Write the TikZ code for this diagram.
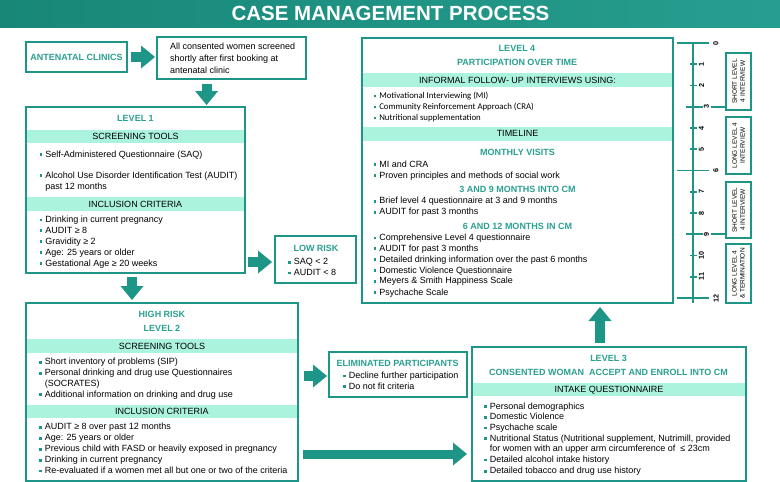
\documentclass[tikz,border=0pt]{standalone}
\usepackage{fontspec}
\setmainfont{Liberation Sans}
\newfontfamily\calib{Carlito}
\usetikzlibrary{arrows.meta,calc}
\definecolor{tealA}{RGB}{30,150,135}
\definecolor{tealH}{RGB}{42,160,145}
\definecolor{mint}{RGB}{172,243,222}
\definecolor{tealT1}{RGB}{24,135,120}
\definecolor{tealT2}{RGB}{38,158,143}
\newcommand{\bul}{{\color{tealA}\rule[1.3pt]{2.6pt}{2.6pt}}\hspace{3pt}}
\begin{document}
\begin{tikzpicture}[x=1pt,y=-1pt,
  box/.style={draw=tealA, line width=2pt, fill=white, rectangle, inner sep=0pt},
  tbox/.style={draw=tealA, line width=1.5pt, fill=white, rectangle, inner sep=0pt, rotate=90, align=center, font=\fontsize{6.5}{8}\selectfont},
  band/.style={fill=mint},
  txt/.style={anchor=base west, inner sep=0pt, font=\fontsize{9}{11}\selectfont, yshift=-3.2pt},
  ctr/.style={anchor=base, inner sep=0pt, font=\fontsize{9}{11}\selectfont, yshift=-3.2pt},
  hdr/.style={ctr, font=\fontsize{9}{11}\selectfont\bfseries, text=tealH},
  bigarrow/.style={draw=tealA, line width=10pt, -{Triangle[width=23pt,length=14pt,line width=0pt]}},
  tl/.style={draw=tealA, line width=1.8pt},
  num/.style={inner sep=0pt, font=\fontsize{7.2}{8}\selectfont\bfseries, rotate=90}
]
\useasboundingbox (0,0) rectangle (780,482);
% title bar
\shade[left color=tealT1, right color=tealT2] (0,0) rectangle (780,27);
\node[font=\fontsize{20.5}{24}\selectfont\bfseries, text=white, anchor=base, inner sep=0pt] (title) at (390.5,20.7) {CASE MANAGEMENT PROCESS};

% boxes
\node[box, minimum width=101pt, minimum height=30pt] (ante) at (76.5,57) {};
\node[box, minimum width=149pt, minimum height=42pt] (cons) at (231.5,58) {};
\node[box, minimum width=219pt, minimum height=166pt] (L1) at (135.5,190) {};
\node[box, minimum width=81pt, minimum height=47pt] (low) at (315.5,259.5) {};
\node[box, minimum width=272pt, minimum height=178pt] (L2) at (162,392) {};
\node[box, minimum width=138pt, minimum height=45pt] (elim) at (398,374.5) {};
\node[box, minimum width=274pt, minimum height=134pt] (L3) at (609,414) {};
\node[box, minimum width=311pt, minimum height=265pt] (L4) at (517.5,170.5) {};

% antenatal
\node[hdr] (anteT) at (76.5,57) {ANTENATAL CLINICS};
\node[txt] (cons1) at (170,46.7) {All consented women screened};
\node[txt] (cons2) at (170,58.3) {shortly after first booking at};
\node[txt] (cons3) at (170,70) {antenatal clinic};

% level 1
\fill[band] (27,130) rectangle (244,143);
\fill[band] (27,197) rectangle (244,211);
\node[hdr] (l1h) at (135.5,118) {LEVEL 1};
\node[ctr] (l1b1) at (135.5,136.5) {SCREENING TOOLS};
\node[txt] (l1a) at (39.5,154) {\bul Self-Administered Questionnaire (SAQ)};
\node[txt] (l1b) at (39.5,175) {\bul Alcohol Use Disorder Identification Test (AUDIT)};
\node[txt] (l1c) at (45.1,186) {past 12 months};
\node[ctr] (l1b2) at (135.5,204) {INCLUSION CRITERIA};
\node[txt] (l1d) at (39.5,219.3) {\bul Drinking in current pregnancy};
\node[txt] (l1e) at (39.5,230) {\bul AUDIT ≥ 8};
\node[txt] (l1f) at (39.5,241) {\bul Gravidity ≥ 2};
\node[txt] (l1g) at (39.5,252) {\bul Age: 25 years or older};
\node[txt] (l1h2) at (39.5,263) {\bul Gestational Age ≥ 20 weeks};

% low risk
\node[hdr] (lowh) at (316,248) {LOW RISK};
\node[txt] (lowa) at (288,261.7) {\bul SAQ < 2};
\node[txt] (lowb) at (288,272.3) {\bul AUDIT < 8};

% level 2
\fill[band] (27,339) rectangle (297,353);
\fill[band] (27,405) rectangle (297,418);
\node[hdr] (l2h1) at (162,314) {HIGH RISK};
\node[hdr] (l2h2) at (162,328) {LEVEL 2};
\node[ctr] (l2b1) at (162,346) {SCREENING TOOLS};
\node[txt] (l2a) at (39,361.7) {\bul Short inventory of problems (SIP)};
\node[txt] (l2b) at (39,372.7) {\bul Personal drinking and drug use Questionnaires};
\node[txt] (l2c) at (44.6,383.3) {(SOCRATES)};
\node[txt] (l2d) at (39,394) {\bul Additional information on drinking and drug use};
\node[ctr] (l2b2) at (162,411.5) {INCLUSION CRITERIA};
\node[txt] (l2e) at (39,426.7) {\bul AUDIT ≥ 8 over past 12 months};
\node[txt] (l2f) at (39,437.7) {\bul Age: 25 years or older};
\node[txt] (l2g) at (39,448.7) {\bul Previous child with FASD or heavily exposed in pregnancy};
\node[txt] (l2h) at (39,459.7) {\bul Drinking in current pregnancy};
\node[txt] (l2i) at (39,470.3) {\bul Re-evaluated if a women met all but one or two of the criteria};

% eliminated
\node[hdr] (elh) at (397.5,363) {ELIMINATED PARTICIPANTS};
\node[txt] (ela) at (343,375.5) {\bul Decline further participation};
\node[txt] (elb) at (343,386) {\bul Do not fit criteria};

% level 3
\fill[band] (473,383) rectangle (745,396);
\node[hdr] (l3h1) at (608.5,358) {LEVEL 3};
\node[hdr] (l3h2) at (608.5,372) {CONSENTED WOMAN\ \ ACCEPT AND ENROLL INTO CM};
\node[ctr] (l3b) at (609,389.5) {INTAKE QUESTIONNAIRE};
\node[txt] (l3a) at (484,406) {\bul Personal demographics};
\node[txt] (l3c) at (484,416.7) {\bul Domestic Violence};
\node[txt] (l3d) at (484,427.3) {\bul Psychache scale};
\node[txt] (l3e) at (484,438) {\bul Nutritional Status (Nutritional supplement, Nutrimill, provided};
\node[txt] (l3f) at (489.6,448.7) {for women with an upper arm circumference of\ \ ≤ 23cm};
\node[txt] (l3g) at (484,459.3) {\bul Detailed alcohol intake history};
\node[txt] (l3i) at (484,470.7) {\bul Detailed tobacco and drug use history};

% level 4
\fill[band] (363,73.3) rectangle (672,87.3);
\fill[band] (363,126.7) rectangle (672,140.7);
\node[hdr] (l4h1) at (517,48.3) {LEVEL 4};
\node[hdr] (l4h2) at (517,62.7) {PARTICIPATION OVER TIME};
\node[ctr] (l4b1) at (517.5,80.3) {INFORMAL FOLLOW- UP INTERVIEWS USING:};
\node[txt, font=\calib\fontsize{8.8}{11}\selectfont] (l4a) at (373.5,95.5) {\bul Motivational Interviewing (MI)};
\node[txt, font=\calib\fontsize{8.8}{11}\selectfont] (l4b) at (373.5,106.3) {\bul Community Reinforcement Approach (CRA)};
\node[txt, font=\calib\fontsize{8.8}{11}\selectfont] (l4c) at (373.5,117.3) {\bul Nutritional supplementation};
\node[ctr] (l4b2) at (517.5,133.7) {TIMELINE};
\node[hdr] (l4m) at (517.5,152) {MONTHLY VISITS};
\node[txt] (l4d) at (373.5,164) {\bul MI and CRA};
\node[txt] (l4e) at (373.5,175) {\bul Proven principles and methods of social work};
\node[hdr] (l4n) at (517.5,189) {3 AND 9 MONTHS INTO CM};
\node[txt] (l4f) at (373.5,200.7) {\bul Brief level 4 questionnaire at 3 and 9 months};
\node[txt] (l4g) at (373.5,211.7) {\bul AUDIT for past 3 months};
\node[hdr] (l4o) at (517.5,226) {6 AND 12 MONTHS IN CM};
\node[txt] (l4i) at (373.5,237.3) {\bul Comprehensive Level 4 questionnaire};
\node[txt] (l4j) at (373.5,248) {\bul AUDIT for past 3 months};
\node[txt] (l4k) at (373.5,259) {\bul Detailed drinking information over the past 6 months};
\node[txt] (l4l) at (373.5,270) {\bul Domestic Violence Questionnaire};
\node[txt] (l4p) at (373.5,280.7) {\bul Meyers \& Smith Happiness Scale};
\node[txt] (l4q) at (373.5,292) {\bul Psychache Scale};

% arrows
\draw[bigarrow, shorten <=3pt, shorten >=1pt] (ante.east) -- (ante.east -| cons.west);
\coordinate (c2) at ($(cons.south west)!0.335!(cons.south east)$);
\draw[bigarrow, shorten <=4pt, shorten >=1pt] (c2) -- (c2 |- L1.north);
\coordinate (lw) at ([yshift=-2.5pt]low.west);
\draw[bigarrow, shorten <=2pt, shorten >=2pt] (L1.east |- lw) -- (lw);
\coordinate (c4) at ([xshift=-3.5pt]L1.south);
\draw[bigarrow, shorten <=3pt, shorten >=2pt] (c4) -- (c4 |- L2.north);
\coordinate (ew) at ([yshift=-1.5pt]elim.west);
\draw[bigarrow, shorten <=5pt, shorten >=1pt] (ew -| L2.east) -- (ew);
\coordinate (l3w) at ([yshift=-40pt]L3.west);
\draw[bigarrow, line width=9pt, shorten <=4pt, shorten >=4pt] (l3w -| L2.east) -- (l3w);
\coordinate (c7) at ([xshift=-9pt]L3.north);
\draw[bigarrow, shorten <=3pt, shorten >=3pt] (c7) -- (c7 |- L4.south);

% timeline
\foreach \m in {0,...,12} { \coordinate (m\m) at (693,{43+21.25*\m}); }
\node[tbox, minimum width=57pt, minimum height=25pt] (tA) at (738.5,81.5) {SHORT LEVEL\\4 INTERVIEW};
\node[tbox, minimum width=57pt, minimum height=25pt] (tB) at (738.5,145.5) {LONG LEVEL 4\\INTERVIEW};
\node[tbox, minimum width=56pt, minimum height=25pt] (tC) at (738.5,210) {SHORT LEVEL\\4 INTERVIEW};
\node[tbox, minimum width=59pt, minimum height=25pt] (tD) at (738.5,273.5) {LONG LEVEL 4\\\& TERMINATION};
\draw[tl] (m0) -- ($(m12)+(0,5)$);
\foreach \m in {0,6,12} {
  \draw[tl] ($(m\m)+(-16,0)$) -- ($(m\m)+(16,0)$);
  \node[num] (n\m) at ($(m\m)+(23,0)$) {\m};
}
\foreach \m in {3,9} {
  \draw[tl] ($(m\m)+(-7,0)$) -- ($(m\m)+(10,0)$);
  \node[num] (n\m) at ($(m\m)+(13.5,0)$) {\m};
}
\foreach \m in {1,2,4,5,7,8,10,11} {
  \draw[tl] ($(m\m)+(-3.5,0)$) -- ($(m\m)+(4,0)$);
  \node[num] (n\m) at ($(m\m)+(8.5,0)$) {\m};
}
\draw[tl] ([xshift=4pt]n3.center) -- (n3.center -| tA.north);
\draw[tl] ([xshift=4pt]n9.center) -- (n9.center -| tC.north);
\end{tikzpicture}
\end{document}
